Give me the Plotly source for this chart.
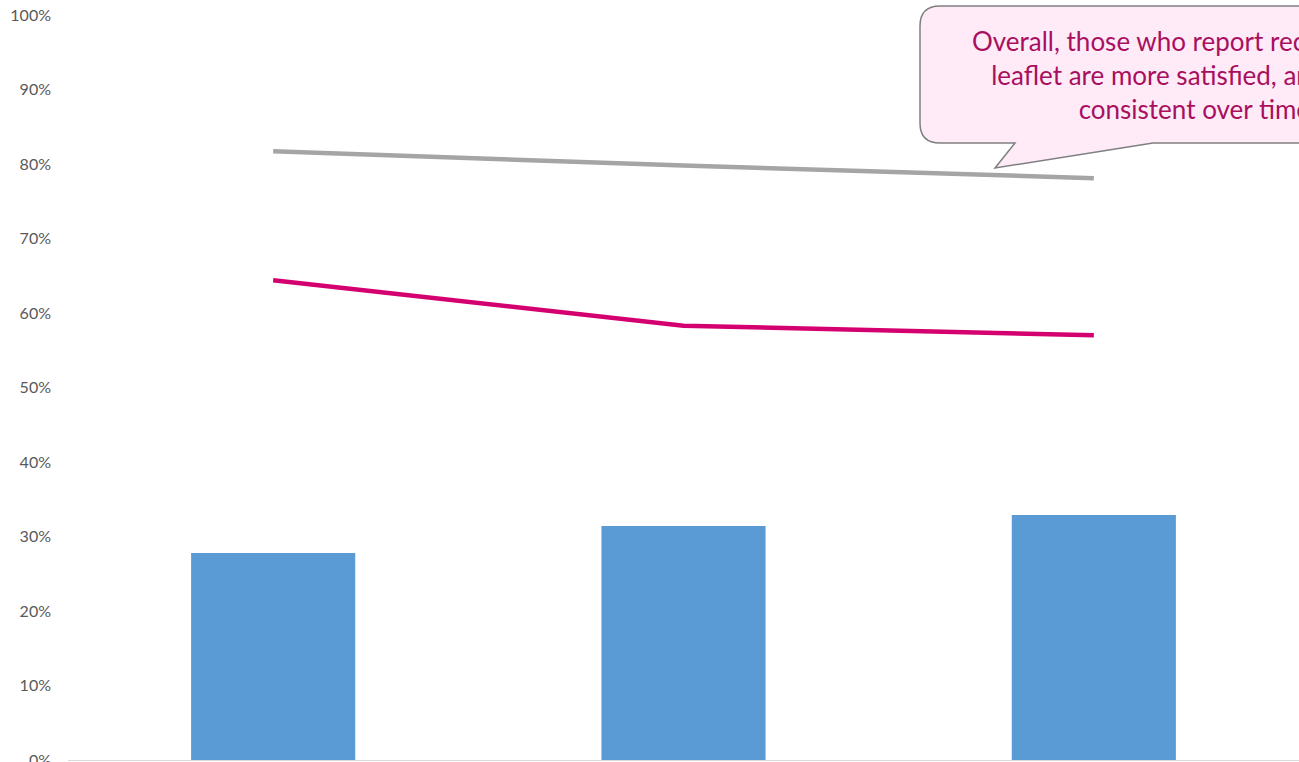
import plotly.graph_objects as go

# Survey waves (x-axis labels sit below the visible area)
waves = ["Wave 1", "Wave 2", "Wave 3"]

# Share reporting that they received the leaflet
received_leaflet = [0.278, 0.314, 0.329]

# Satisfaction among those who received the leaflet
satisfied_received = [0.817, 0.798, 0.781]

# Satisfaction overall
satisfied_overall = [0.644, 0.583, 0.570]

y_ticks = [i / 10 for i in range(11)]

callout_text = ("Overall, those who report receiving the<br>"
                "leaflet are more satisfied, and this is<br>"
                "consistent over time")

W, H = 1299, 762
M_L, M_R, M_T, M_B = 68, 0, 15, 2
PW, PH = W - M_L - M_R, H - M_T - M_B


def px(x):
    """Pixel column -> paper x."""
    return (x - M_L) / PW


def py(y):
    """Pixel row -> paper y."""
    return (H - M_B - y) / PH


fig = go.Figure()

fig.add_trace(go.Bar(
    x=list(range(len(waves))), y=received_leaflet, name="Received leaflet",
    marker=dict(color="#5B9BD5", line=dict(width=0)), width=0.4,
))
fig.add_trace(go.Scatter(
    x=list(range(len(waves))), y=satisfied_received, mode="lines",
    name="Satisfied (received leaflet)",
    line=dict(color="#A5A5A5", width=4.5),
))
fig.add_trace(go.Scatter(
    x=list(range(len(waves))), y=satisfied_overall, mode="lines",
    name="Satisfied (overall)",
    line=dict(color="#D40070", width=4.5),
))

# Speech-bubble callout (rounded box with a pointer towards the lines)
L, R, T, B, r = 920, 1468, 6, 143, 20
tail_a, tail_b, tip = 1153, 1015, (995, 168)
pts = [
    ("M", (L + r, T)), ("L", (R - r, T)), ("Q", (R, T), (R, T + r)),
    ("L", (R, B - r)), ("Q", (R, B), (R - r, B)), ("L", (tail_a, B)),
    ("L", tip), ("L", (tail_b, B)), ("L", (L + r, B)),
    ("Q", (L, B), (L, B - r)), ("L", (L, T + r)), ("Q", (L, T), (L + r, T)),
]
path = ""
for cmd, *coords in pts:
    path += cmd + " " + " ".join(f"{px(cx):.5f},{py(cy):.5f}" for cx, cy in coords) + " "
path += "Z"

fig.add_shape(
    type="path", path=path, xref="paper", yref="paper",
    fillcolor="#FFEBF7", line=dict(color="#7F7F7F", width=1.5), layer="above",
)
fig.add_annotation(
    x=px((L + R) / 2), y=py((T + B) / 2), xref="paper", yref="paper",
    text=callout_text, showarrow=False, align="center",
    xanchor="center", yanchor="middle",
    font=dict(family="Lato", size=26, color="#A8105F"),
)

fig.update_layout(
    width=W, height=H,
    margin=dict(l=M_L, r=M_R, t=M_T, b=M_B, autoexpand=False),
    plot_bgcolor="white", paper_bgcolor="white",
    showlegend=False,
    xaxis=dict(
        range=[-0.5, len(waves) - 0.5], showticklabels=False,
        showgrid=False, zeroline=False, showline=True,
        linecolor="#D9D9D9", linewidth=1, ticks="", automargin=False,
    ),
    yaxis=dict(
        range=[0, 1], tickvals=y_ticks, tickformat=".0%",
        showgrid=False, zeroline=False, showline=False, ticks="",
        ticklabelstandoff=16, ticklabeloverflow="allow", automargin=False,
        tickfont=dict(family="Lato", size=16, color="#595959"),
    ),
)

fig.write_html("out.html")
